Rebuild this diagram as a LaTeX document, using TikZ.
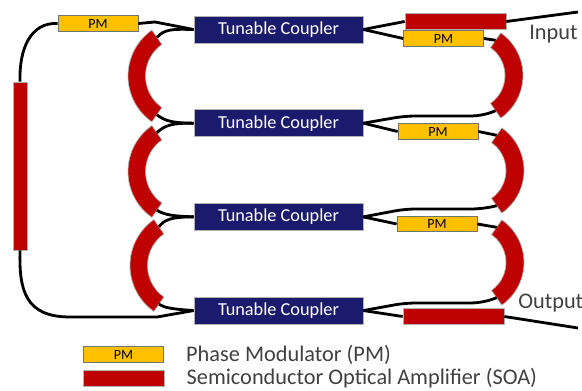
\documentclass[tikz,border=0pt]{standalone}
\usepackage{fontspec}
\setmainfont{Carlito}
\usetikzlibrary{positioning,calc}

\definecolor{soared}{RGB}{190,0,0}
\definecolor{pmyellow}{RGB}{255,192,0}
\definecolor{couplerblue}{RGB}{27,27,110}
\definecolor{labelgray}{RGB}{64,64,64}

\tikzset{
    wire/.style={line width=1.6pt, black},
    coupler/.style={draw=gray!60, fill=couplerblue, text=white, minimum width=3.38cm, minimum height=0.54cm, inner sep=0pt, font=\fontsize{10.4}{12}\selectfont},
    pm/.style={draw=black!55, fill=pmyellow, minimum width=1.6cm, minimum height=0.31cm, inner sep=0pt, font=\fontsize{8}{9}\selectfont},
    soa/.style={draw=gray!60, fill=soared, minimum width=2.02cm, minimum height=0.31cm, inner sep=0pt},
    label/.style={text=labelgray, inner sep=0pt, font=\fontsize{12.7}{14}\selectfont}
}

% name, centre x, centre y, inner radius, outer radius, top angle, bottom angle
\newcommand{\soaarc}[7]{
    \coordinate (#1top) at ($(#2,#3)+(#6:{(#4+#5)/2})$);
    \coordinate (#1bot) at ($(#2,#3)+(#7:{(#4+#5)/2})$);
    \draw[draw=gray!60, fill=soared] ($(#2,#3)+(#6:#5)$) arc (#6:#7:#5) -- ($(#2,#3)+(#7:#4)$) arc (#7:#6:#4) -- cycle;
}

\begin{document}
\begin{tikzpicture}[x=0.02cm, y=0.02cm, node distance=1.32cm]
    \useasboundingbox (0,0) rectangle (582,390);

    % couplers
    \node (coupler1) [coupler] at (278.5,360.5) {Tunable Coupler};
    \node (coupler2) [coupler, below=of coupler1] {Tunable Coupler};
    \node (coupler3) [coupler, below=of coupler2] {Tunable Coupler};
    \node (coupler4) [coupler, below=of coupler3] {Tunable Coupler};

    % modulators
    \node (pm1) [pm] at (98,366.5) {PM};
    \node (pm2) [pm] at (443.5,351.5) {PM};
    \node (pm3) [pm] at (438,258.5) {PM};
    \node (pm4) [pm] at (437,166) {PM};

    % straight amplifiers
    \node (soa1) [soa, minimum width=0.28cm, minimum height=3.36cm] at (20,224) {};
    \node (soa2) [soa] at (455.5,368.5) {};
    \node (soa3) [soa] at (453.5,73.5) {};

    % bent amplifiers
    \soaarc{la}{184}{314}{38.5}{56}{125}{235}
    \soaarc{lb}{184}{218.5}{38.5}{56}{125}{235}
    \soaarc{lc}{186}{124.5}{38.5}{56}{125}{235}
    \soaarc{ra}{471}{314.5}{34}{52}{55}{-55}
    \soaarc{rb}{472}{219.5}{34}{52}{55}{-55}
    \soaarc{rc}{472}{127.5}{34}{52}{55}{-55}

    \coordinate (input) at (578,378);
    \coordinate (output) at (578,62);

    % left side
    \draw [wire] (pm1.west) .. controls (30,368) and (19,340) .. (soa1.north);
    \draw [wire] (soa1.south) .. controls (19,100) and (25,73) .. (70,73) -- (157,73) -- (coupler4.west);
    \draw [wire] (pm1.east) -- (155,368) -- (coupler1.west);
    \draw [wire] (latop) .. controls (165,361) and (172,361) .. (coupler1.west);
    \draw [wire] (labot) .. controls (165,269) and (172,267) .. (coupler2.west);
    \draw [wire] (lbtop) .. controls (165,265) and (172,267) .. (coupler2.west);
    \draw [wire] (lbbot) .. controls (165,175) and (172,174) .. (coupler3.west);
    \draw [wire] (lctop) .. controls (165,171) and (172,173) .. (coupler3.west);
    \draw [wire] (lcbot) .. controls (165,82) and (172,81) .. (coupler4.west);

    % right side
    \draw [wire] (coupler1.east) -- (soa2.west);
    \draw [wire] (coupler1.east) -- (pm2.west);
    \draw [wire] (pm2.east) -- (ratop);
    \draw [wire] (soa2.east) -- (input);
    \draw [wire, rounded corners=6pt] (coupler2.east) -- (405,274) -- (482,274) -- (rabot);
    \draw [wire] (coupler2.east) -- (pm3.west);
    \draw [wire] (pm3.east) -- (rbtop);
    \draw [wire, rounded corners=6pt] (coupler3.east) -- (405,181) -- (482,181) -- (rbbot);
    \draw [wire] (coupler3.east) -- (pm4.west);
    \draw [wire] (pm4.east) -- (rctop);
    \draw [wire, rounded corners=6pt] (coupler4.east) -- (405,87) -- (482,87) -- (rcbot);
    \draw [wire] (coupler4.east) -- (soa3.west);
    \draw [wire] (soa3.east) -- (output);

    \node (inputlabel) [label, anchor=west] at (529,356) {Input};
    \node (outputlabel) [label, anchor=west] at (518,87) {Output};

    % legend
    \node (legendpm) [pm] at (123.5,35.5) {PM};
    \node (legendsoa) [soa, minimum width=1.62cm, below=0.15cm of legendpm] {};
    \node (legendpmtext) [label, right=0.44cm of legendpm] {Phase Modulator (PM)};
    \node (legendsoatext) [label, right=0.44cm of legendsoa] {Semiconductor Optical Amplifier (SOA)};
\end{tikzpicture}
\end{document}
